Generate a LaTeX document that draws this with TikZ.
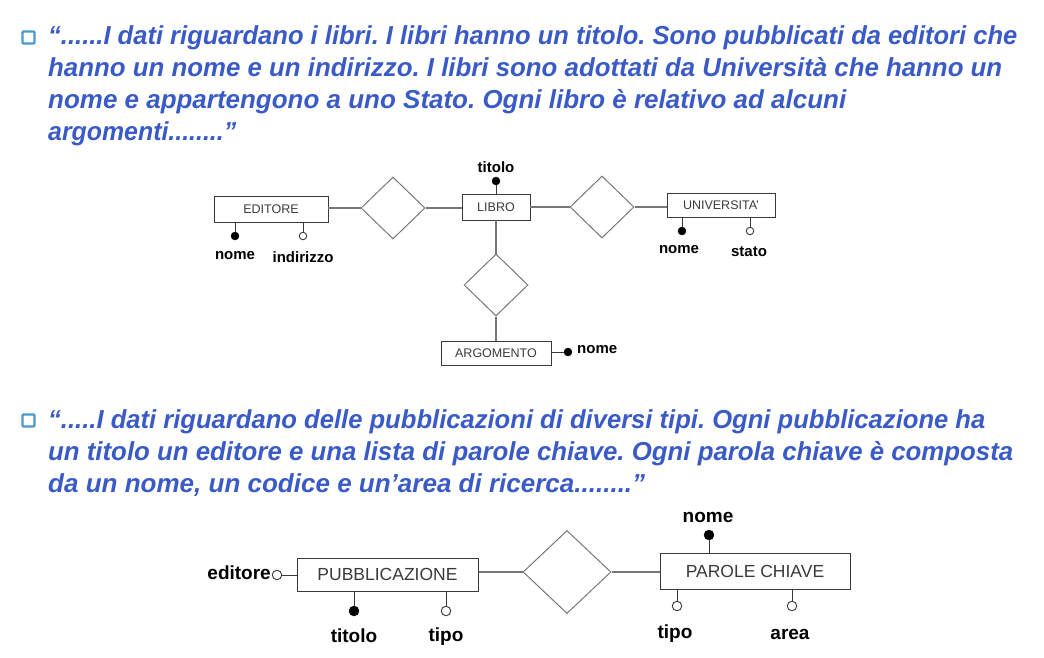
\documentclass[tikz,border=0pt]{standalone}
\usepackage{fontspec}
\setmainfont{Liberation Sans}
\usetikzlibrary{shapes.geometric}
\frenchspacing
\definecolor{txtblue}{HTML}{3A5BC7}
\definecolor{bulletc}{HTML}{4A9AD0}
\definecolor{lnc}{HTML}{777777}
\definecolor{boxc}{HTML}{3A3A3A}
\newsavebox\fitbox
\newcommand\fitw[2]{\sbox\fitbox{#2}\pgfmathsetmacro\fitfac{#1/\wd\fitbox}\scalebox{\fitfac}[1]{\usebox\fitbox}}
\tikzset{
  para/.style={anchor=base west, inner sep=0pt, text=txtblue, font=\fontsize{26}{26}\selectfont\bfseries\itshape},
  bul/.style={draw=bulletc, line width=2.2pt, rounded corners=1pt, fill=white, minimum width=12pt, minimum height=12pt, inner sep=0pt},
  ent/.style={draw=boxc, line width=0.9pt, inner sep=0pt, text=boxc, font=\fontsize{12.5}{12.5}\selectfont},
  enttwo/.style={draw=boxc, line width=1pt, inner sep=0pt, text=boxc, font=\fontsize{17.5}{17.5}\selectfont},
  rel/.style={diamond, draw=lnc, line width=1pt, inner sep=0pt, minimum width=64pt, minimum height=62pt},
  conn/.style={draw=lnc, line width=1.2pt},
  stem/.style={draw=boxc, line width=1pt},
  kdot/.style={circle, fill=black, draw=black, inner sep=0pt, minimum size=8pt},
  odot/.style={circle, fill=white, draw=boxc, line width=0.9pt, inner sep=0pt, minimum size=7.5pt},
  kdottwo/.style={kdot, minimum size=10pt},
  odottwo/.style={odot, minimum size=9.5pt},
  lab/.style={inner sep=0pt, font=\fontsize{15}{15}\selectfont\bfseries},
  labtwo/.style={inner sep=0pt, font=\fontsize{19}{19}\selectfont\bfseries},
}
\begin{document}
\begin{tikzpicture}[x=1pt,y=-1pt]
\useasboundingbox (0,0) rectangle (1044,658);
% ---------- paragraph 1
\node[bul] (b1) at (28.5,37.5) {};
\node[para] (p1a) at (48,45) {\fitw{969}{“......I dati riguardano i libri. I libri hanno un titolo. Sono pubblicati da editori che}};
\node[para] (p1b) at (48,77) {\fitw{954}{hanno un nome e un indirizzo. I libri sono adottati da Università che hanno un}};
\node[para] (p1c) at (48,109) {\fitw{798}{nome e appartengono a uno Stato. Ogni libro è relativo ad alcuni}};
\node[para] (p1d) at (48,141) {\fitw{188}{argomenti........”}};
% ---------- diagram 1
\node[ent, minimum width=114pt, minimum height=26pt] (ed) at (271,209) {EDITORE};
\node[rel] (r1) at (393,208) {};
\node[ent, minimum width=68pt, minimum height=26pt] (lib) at (496,207) {LIBRO};
\node[rel] (r2) at (602,207) {};
\node[ent, minimum width=108pt, minimum height=24pt] (uni) at (721,205) {UNIVERSITA'};
\node[rel] (r3) at (496,285) {};
\node[ent, minimum width=110pt, minimum height=24pt] (arg) at (496,353) {ARGOMENTO};
\draw[conn] (r1.west) -- (r1.west -| ed.east);
\draw[conn] (r1.east) -- (r1.east -| lib.west);
\draw[conn] (r2.west) -- (r2.west -| lib.east);
\draw[conn] (r2.east) -- (r2.east -| uni.west);
\draw[conn] (lib.south) -- (r3.north);
\draw[conn] (r3.south) -- (arg.north);
% attributes diagram 1
\node[kdot] (tdot) at (496,181) {};
\node[lab] (tlab) at (496,167) {titolo};
\draw[stem] (lib.north) -- (tdot);
\node[kdot] (ednd) at (235,236) {};
\node[odot] (edid) at (303,236) {};
\draw[stem] (ednd |- ed.south) -- (ednd);
\draw[stem] (edid |- ed.south) -- (edid);
\node[lab] (ednl) at (235,256) {nome};
\node[lab] (edil) at (303,257) {indirizzo};
\node[kdot] (unnd) at (682,231) {};
\node[odot] (unsd) at (750,231) {};
\draw[stem] (unnd |- uni.south) -- (unnd);
\draw[stem] (unsd |- uni.south) -- (unsd);
\node[lab] (unnl) at (679,250) {nome};
\node[lab] (unsl) at (749,252) {stato};
\node[kdot] (argd) at (568,352) {};
\draw[stem] (arg.east |- argd) -- (argd);
\node[lab, anchor=west] (argl) at (577,350) {nome};
% ---------- paragraph 2
\node[bul] (b2) at (28.5,420.5) {};
\node[para] (p2a) at (48,428) {\fitw{937}{“.....I dati riguardano delle pubblicazioni di diversi tipi. Ogni pubblicazione ha}};
\node[para] (p2b) at (48,460) {\fitw{965}{un titolo un editore e una lista di parole chiave. Ogni parola chiave è composta}};
\node[para] (p2c) at (48,492) {\fitw{597}{da un nome, un codice e un’area di ricerca........”}};
% ---------- diagram 2
\node[enttwo, minimum width=181pt, minimum height=33pt] (pub) at (387.5,574.5) {PUBBLICAZIONE};
\node[rel, minimum width=88pt, minimum height=83pt] (r4) at (567,572) {};
\node[enttwo, minimum width=190pt, minimum height=36pt] (pc) at (755,571) {PAROLE CHIAVE};
\draw[conn] (r4.west) -- (r4.west -| pub.east);
\draw[conn] (r4.east) -- (r4.east -| pc.west);
\node[odottwo] (edd) at (277,575) {};
\node[labtwo, anchor=east] (edl) at (271,573) {editore};
\draw[stem] (edd) -- (edd -| pub.west);
\node[kdottwo] (ptd) at (354,611) {};
\node[odottwo] (ppd) at (446,611) {};
\draw[stem] (ptd |- pub.south) -- (ptd);
\draw[stem] (ppd |- pub.south) -- (ppd);
\node[labtwo] (ptl) at (354,636) {titolo};
\node[labtwo] (ppl) at (446,637) {tipo};
\node[kdottwo] (pnd) at (709,535) {};
\node[labtwo] (pnl) at (708,517) {nome};
\draw[stem] (pnd) -- (pnd |- pc.north);
\node[odottwo] (ptpd) at (677,606) {};
\node[odottwo] (pad) at (792,606) {};
\draw[stem] (ptpd |- pc.south) -- (ptpd);
\draw[stem] (pad |- pc.south) -- (pad);
\node[labtwo] (ptpl) at (675,634) {tipo};
\node[labtwo] (pal) at (790,634) {area};
\end{tikzpicture}
\end{document}
